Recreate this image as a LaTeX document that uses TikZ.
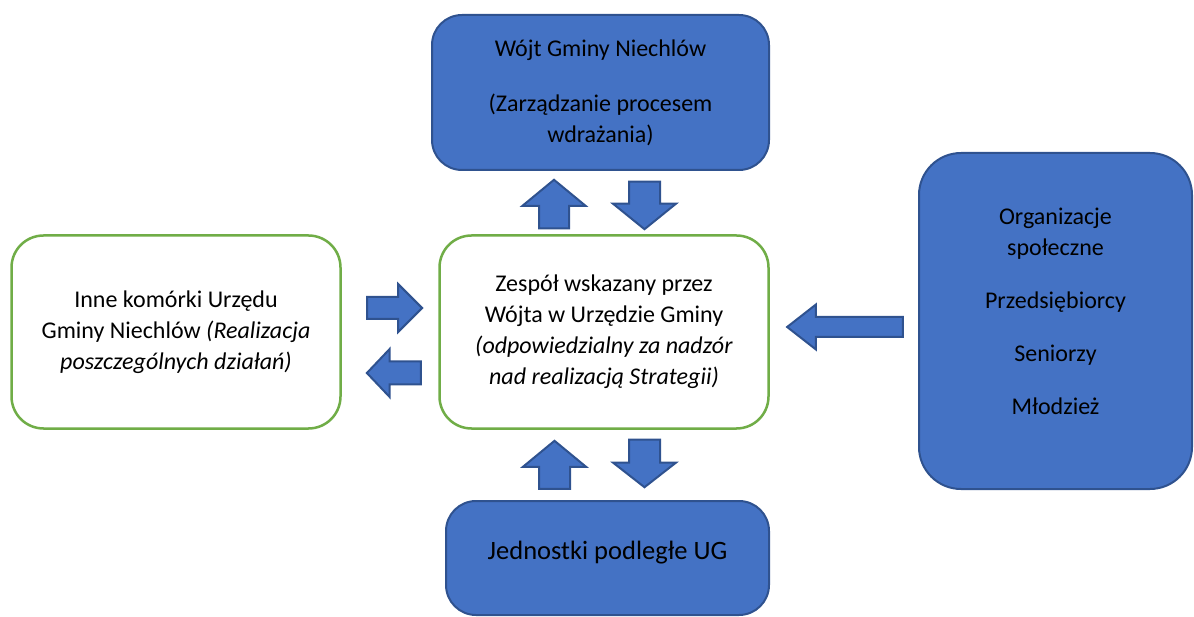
\documentclass[tikz,border=0pt]{standalone}
\usepackage{fontspec}
\setmainfont{Carlito}
\usepackage{tikz}
\usetikzlibrary{shapes.arrows}
\definecolor{bluefill}{HTML}{4472C4}
\definecolor{blueedge}{HTML}{2F528F}
\definecolor{greenedge}{HTML}{70AD47}
\tikzstyle{bluebox} = [rectangle, draw=blueedge, fill=bluefill, line width=2pt, align=center, font=\fontsize{24}{31}\selectfont]
\tikzstyle{greenbox} = [rectangle, draw=greenedge, fill=white, line width=2.5pt, align=center, font=\fontsize{24}{31}\selectfont]
\tikzstyle{boxtext} = [align=center, font=\fontsize{24}{31}\selectfont]
\tikzstyle{blockarrow} = [single arrow, draw=blueedge, fill=bluefill, line width=2pt, inner xsep=0pt, minimum width=1pt, anchor=tip]

\begin{document}
\begin{tikzpicture}[x=1pt, y=-1pt]
	\useasboundingbox (0,0) rectangle (1194,617);
	\clip (0,0) rectangle (1194,617);
		% boxes
		\node[bluebox, minimum width=337pt, minimum height=155pt, rounded corners=30pt] (wojt) at (600.5,92.5)
			{W\'ojt Gminy Niechl\'ow\\[24pt](Zarządzanie procesem\\wdrażania)};
		\node[greenbox, minimum width=329pt, minimum height=193pt, rounded corners=32pt] (inne) at (176,332)
			{Inne komórki Urzędu\\Gminy Niechlów \textit{(Realizacja}\\\textit{poszczególnych działań)}};
		\node[greenbox, minimum width=329pt, minimum height=193pt, rounded corners=32pt] (zespol) at (604,332)
			{Zespół wskazany przez\\Wójta w Urzędzie Gminy\\\textit{(odpowiedzialny za nadzór}\\\textit{nad realizacją Strategii)}};
		\node[bluebox, minimum width=273pt, minimum height=336pt, rounded corners=42pt] (org) at (1055.5,321) {};
		\node[boxtext] (orgText) at ([yshift=10pt]org.center)
			{Organizacje\\społeczne\\[22pt]Przedsiębiorcy\\[22pt]Seniorzy\\[22pt]Młodzież};
		\node[bluebox, minimum width=323pt, minimum height=114pt, rounded corners=30pt, font=\fontsize{26.5}{32}\selectfont, text depth=16pt] (jedn) at (607.5,558)
			{Jednostki podległe UG};
		% block arrows
		\node[blockarrow, rotate=90, inner ysep=14pt, single arrow head extend=16.5pt, minimum height=48.5pt, single arrow tip angle=101] (upTop) at (554,178.5) {};
		\node[blockarrow, rotate=-90, inner ysep=14.5pt, single arrow head extend=16pt, minimum height=47.5pt, single arrow tip angle=102] (downTop) at (644.5,230.5) {};
		\node[blockarrow, rotate=90, inner ysep=14.5pt, single arrow head extend=16pt, minimum height=48pt, single arrow tip angle=101] (upBottom) at (554.5,439.5) {};
		\node[blockarrow, rotate=-90, inner ysep=14.5pt, single arrow head extend=16pt, minimum height=47.5pt, single arrow tip angle=104] (downBottom) at (644.5,488.5) {};
		\node[blockarrow, inner ysep=10pt, single arrow head extend=13pt, minimum height=55pt, single arrow tip angle=90] (toZespol) at (423.5,308) {};
		\node[blockarrow, rotate=180, inner ysep=10.5pt, single arrow head extend=12.5pt, minimum height=54pt, single arrow tip angle=93] (toInne) at (365.5,373) {};
		\node[blockarrow, rotate=180, inner ysep=9pt, single arrow head extend=12.5pt, minimum height=115.7pt, single arrow tip angle=76] (fromOrg) at (785.5,327) {};
\end{tikzpicture}
\end{document}
